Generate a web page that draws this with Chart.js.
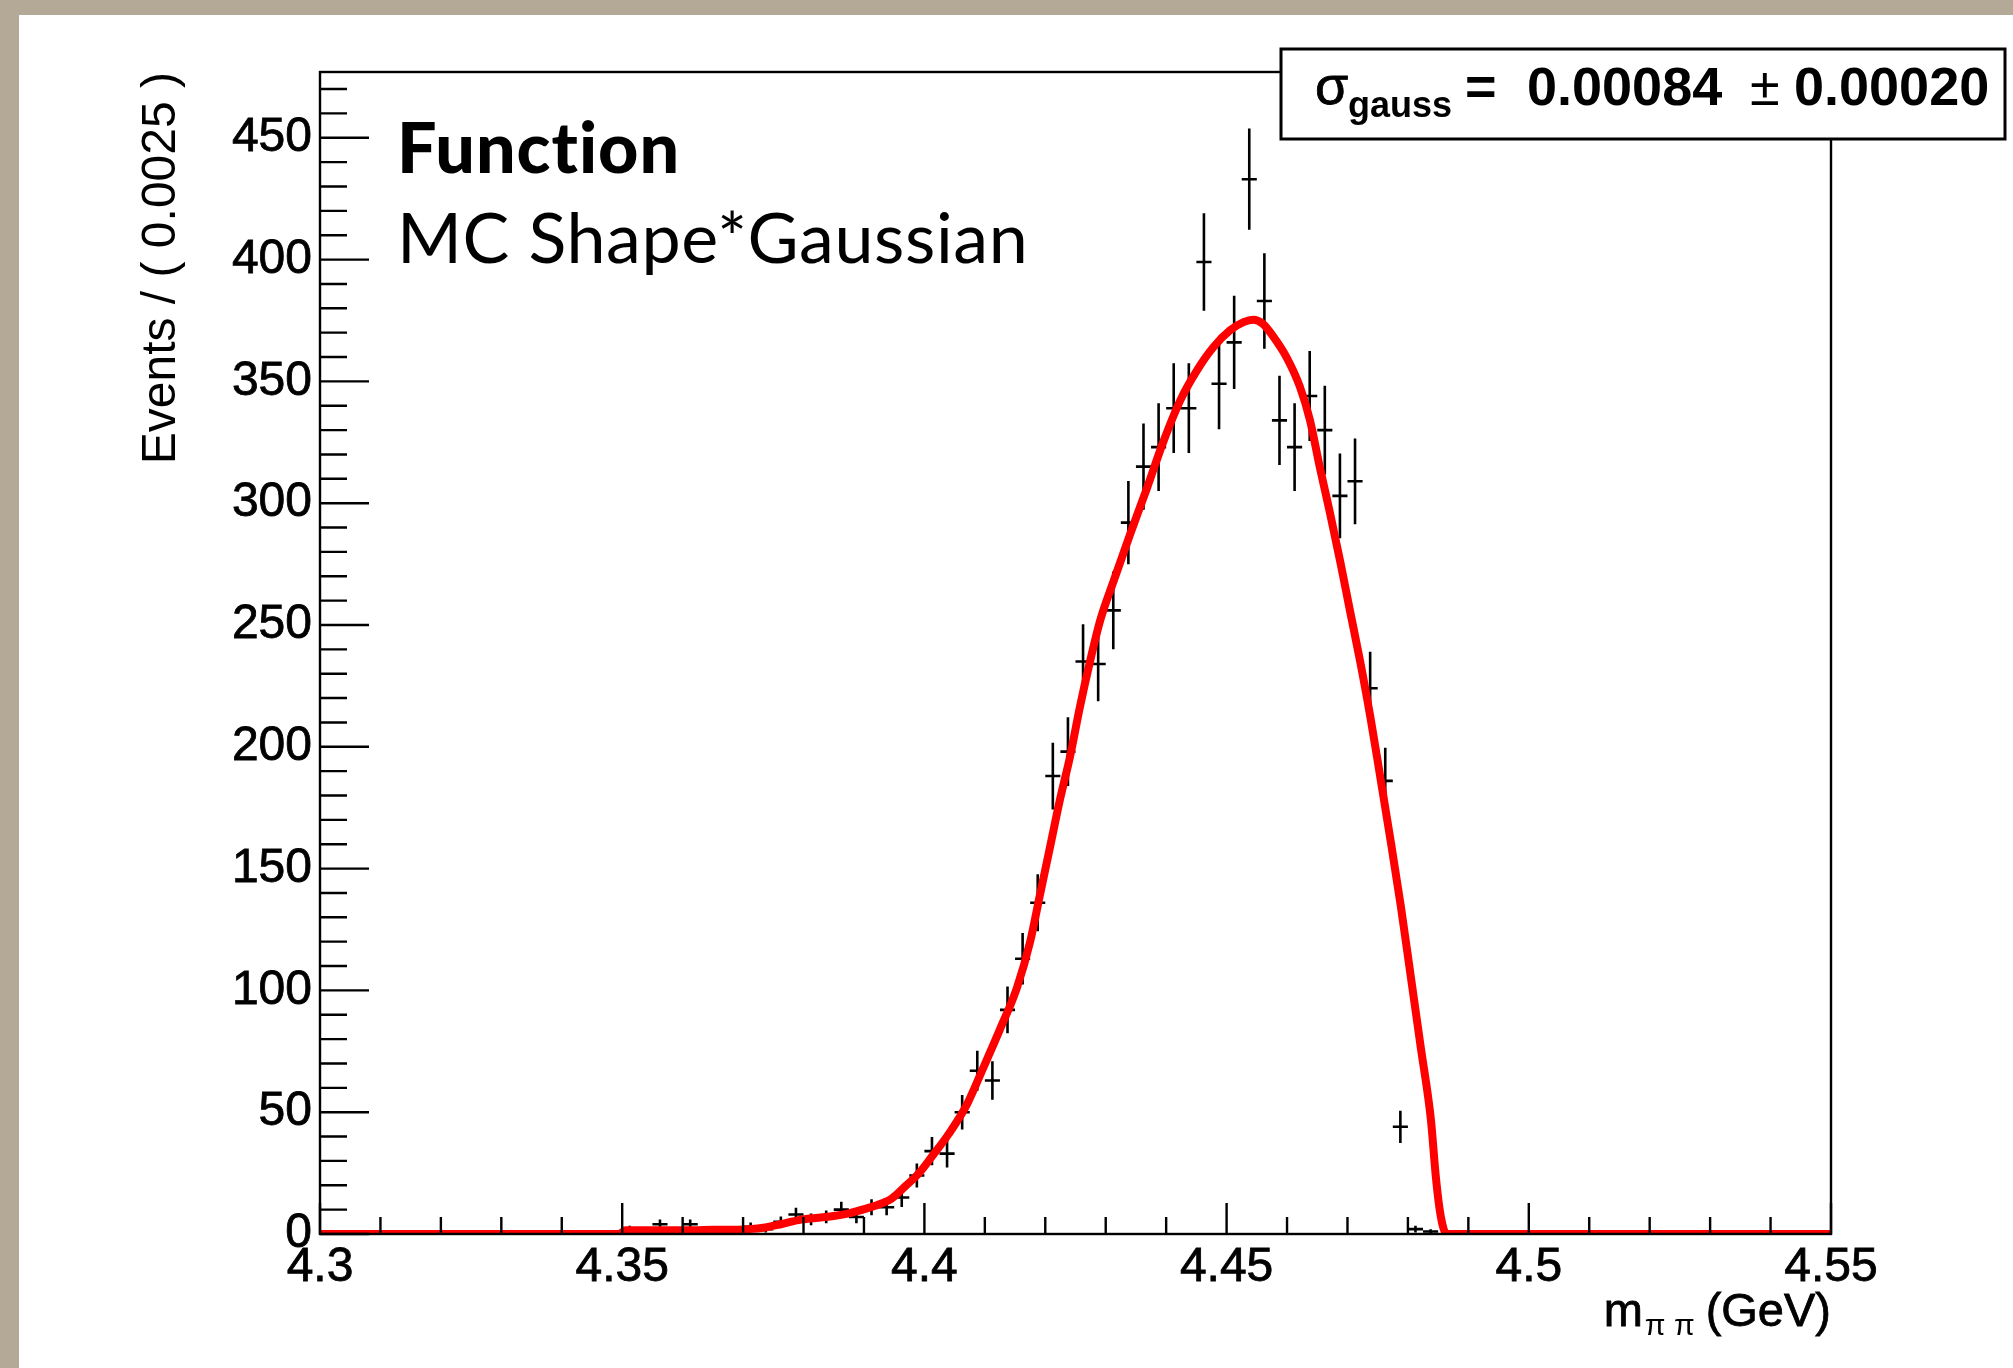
<!DOCTYPE html>
<html>
<head>
<meta charset="utf-8">
<script src="https://cdn.jsdelivr.net/npm/chart.js@4.4.1/dist/chart.umd.min.js"></script>
<style>
  html, body { margin: 0; padding: 0; background: #b4a997; }
  #massChart { display: block; }
</style>
</head>
<body>
<canvas id="massChart" width="2013" height="1368"></canvas>
<script>
// ---------------- DATA ----------------
// binned events, bin width 0.0025 GeV (bin centres)
const pointMass = [4.35125, 4.35625, 4.36125, 4.37125, 4.37375, 4.37625, 4.37875, 4.38125, 4.38375,
  4.38625, 4.38875, 4.39125, 4.39375, 4.39625, 4.39875, 4.40125, 4.40375, 4.40625, 4.40875, 4.41125,
  4.41375, 4.41625, 4.41875, 4.42125, 4.42375, 4.42625, 4.42875, 4.43125, 4.43375, 4.43625, 4.43875,
  4.44125, 4.44375, 4.44625, 4.44875, 4.45125, 4.45375, 4.45625, 4.45875, 4.46125, 4.46375, 4.46625,
  4.46875, 4.47125, 4.47375, 4.47625, 4.47875, 4.48125, 4.48375];
const pointEvents = [2, 4, 4, 3, 2, 5, 8, 6, 7,
  10, 7, 11, 11, 15, 24, 34, 33, 50, 67, 63,
  92, 113, 136, 188, 198, 235, 234, 256, 292, 315, 323,
  339, 339, 399, 349, 366, 433, 383, 334, 323, 344, 330,
  303, 309, 224, 186, 44, 2, 1];
const pointError = [1.4, 2, 2, 1.7, 1.4, 2.2, 2.8, 2.4, 2.6,
  3.2, 2.6, 3.3, 3.3, 3.9, 4.9, 5.8, 5.7, 7.1, 8.2, 7.9,
  9.6, 10.6, 11.7, 13.7, 14.1, 15.3, 15.3, 16, 17.1, 17.7, 18,
  18.4, 18.4, 20, 18.7, 19.1, 20.8, 19.6, 18.3, 18, 18.5, 18.2,
  17.4, 17.6, 15, 13.6, 6.6, 1.4, 1];
const binHalfWidth = 0.00125;

// fitted pdf: MC shape convolved with a gaussian
const curveMass = [4.3, 4.3495, 4.3505, 4.36, 4.365, 4.3709, 4.3737, 4.3764, 4.3792, 4.382,
  4.3847, 4.3875, 4.3902, 4.393, 4.3946, 4.3968, 4.3991, 4.4013, 4.404, 4.407,
  4.4097, 4.4125, 4.4153, 4.4175, 4.4191, 4.4208, 4.4224, 4.4241, 4.4257, 4.4274,
  4.4291, 4.4313, 4.434, 4.4368, 4.4395, 4.4423, 4.4451, 4.4478, 4.4506, 4.4528,
  4.4544, 4.456, 4.4577, 4.4599, 4.4621, 4.4638, 4.4654, 4.4671, 4.4688, 4.4704,
  4.4721, 4.4738, 4.4754, 4.4771, 4.4788, 4.4804, 4.4821, 4.4838, 4.4846, 4.4852,
  4.4857, 4.4862, 4.4868, 4.55];
const curveEvents = [0, 0, 1.5, 1.5, 1.7, 2, 2.7, 4.1, 5.7, 6.6,
  7.3, 8.5, 10.3, 12.6, 14.6, 19.5, 25, 32, 41, 53,
  68, 84, 101, 120, 139, 159, 178, 196, 216, 235,
  252, 268, 287, 306, 325, 342, 354.5, 364, 371, 374.3,
  375.3, 373.6, 368.5, 360, 348, 334, 315, 296, 276, 256,
  235, 212, 188, 162, 135, 107, 77, 47, 24, 11,
  4, 0.5, 0, 0];

const xTickValues = [4.3, 4.35, 4.4, 4.45, 4.5, 4.55];
const xTickLabels = ["4.3", "4.35", "4.4", "4.45", "4.5", "4.55"];
const yTickValues = [0, 50, 100, 150, 200, 250, 300, 350, 400, 450];
const yTickLabels = ["0", "50", "100", "150", "200", "250", "300", "350", "400", "450"];
const yMax = 477;

const sigmaValue = "0.00084";
const sigmaError = "0.00020";

// ---------------- STYLE ----------------
const AXIS_FONT = "'Liberation Sans', Arial, sans-serif";
const NOTE_FONT = "Lato, 'Noto Sans', sans-serif";

// ---------------- PLUGIN: root-like frame, error bars, notes ----------------
const rootStyle = {
  id: "rootStyle",

  beforeDraw(chart) {
    const { ctx, width, height } = chart;
    ctx.save();
    ctx.fillStyle = "#b4a997";
    ctx.fillRect(0, 0, width, height);
    ctx.fillStyle = "#ffffff";
    ctx.fillRect(19, 15, width - 19, height - 15);
    ctx.restore();
  },

  // data points go under the fit curve
  beforeDatasetsDraw(chart) {
    const { ctx, scales: { x, y } } = chart;
    ctx.save();
    ctx.strokeStyle = "#000";
    ctx.lineWidth = 2.6;
    ctx.beginPath();
    pointMass.forEach((m, i) => {
      const px = x.getPixelForValue(m);
      const py = y.getPixelForValue(pointEvents[i]);
      ctx.moveTo(px, y.getPixelForValue(Math.max(0, pointEvents[i] - pointError[i])));
      ctx.lineTo(px, y.getPixelForValue(pointEvents[i] + pointError[i]));
      ctx.moveTo(x.getPixelForValue(m - binHalfWidth), py);
      ctx.lineTo(x.getPixelForValue(m + binHalfWidth), py);
    });
    ctx.stroke();
    ctx.restore();
  },

  afterDraw(chart) {
    const { ctx, chartArea: a, scales: { x, y } } = chart;
    ctx.save();

    // frame
    ctx.strokeStyle = "#000";
    ctx.lineWidth = 2.4;
    ctx.strokeRect(a.left, a.top, a.right - a.left, a.bottom - a.top);

    // inward ticks
    ctx.beginPath();
    for (let k = 0; k <= 25; k++) {
      const px = x.getPixelForValue(4.3 + k * 0.01);
      const len = k % 5 === 0 ? 31 : 17;
      ctx.moveTo(px, a.bottom);
      ctx.lineTo(px, a.bottom - len);
    }
    for (let v = 0; v <= 470; v += 10) {
      const py = y.getPixelForValue(v);
      const len = v % 50 === 0 ? 49 : 27;
      ctx.moveTo(a.left, py);
      ctx.lineTo(a.left + len, py);
    }
    ctx.stroke();

    // x axis title: m_{pi pi} (GeV)
    ctx.fillStyle = "#000";
    ctx.strokeStyle = "#000";
    ctx.lineWidth = 0.8;
    ctx.textBaseline = "alphabetic";
    ctx.textAlign = "left";
    const big = "47px " + AXIS_FONT;
    const sub = "30px " + AXIS_FONT;
    ctx.font = big;
    const wM = ctx.measureText("m").width;
    const wTail = ctx.measureText(" (GeV)").width;
    ctx.font = sub;
    const wPi = ctx.measureText("\u03c0 \u03c0").width;
    const tx = a.right - (wM + wPi + wTail);
    ctx.font = big;
    ctx.fillText("m", tx, 1326);
    ctx.strokeText("m", tx, 1326);
    ctx.font = sub;
    ctx.fillText("\u03c0 \u03c0", tx + wM + 2, 1335);
    ctx.font = big;
    ctx.fillText(" (GeV)", tx + wM + wPi, 1326);
    ctx.strokeText(" (GeV)", tx + wM + wPi, 1326);

    // fit result box
    ctx.fillStyle = "#fff";
    ctx.fillRect(1281, 49, 724, 90);
    ctx.lineWidth = 3;
    ctx.strokeRect(1281, 49, 724, 90);
    ctx.fillStyle = "#000";
    ctx.lineWidth = 0.8;
    ctx.font = "54px " + AXIS_FONT;
    ctx.fillText("\u03c3", 1315, 104);
    ctx.strokeText("\u03c3", 1315, 104);
    ctx.font = "bold 36px " + AXIS_FONT;
    ctx.fillText("gauss", 1348, 117);
    ctx.font = "bold 54px " + AXIS_FONT;
    ctx.fillText("=", 1465, 105);
    ctx.fillText(sigmaValue, 1527, 105);
    ctx.font = "54px " + AXIS_FONT;
    ctx.fillText("\u00b1", 1750, 105);
    ctx.font = "bold 54px " + AXIS_FONT;
    ctx.fillText(sigmaError, 1794, 105);

    // slide notes
    ctx.letterSpacing = "1px";
    ctx.font = "900 70px " + NOTE_FONT;
    ctx.fillText("Function", 397, 173);
    ctx.letterSpacing = "0.6px";
    ctx.font = "70px " + NOTE_FONT;
    ctx.fillText("MC Shape*Gaussian", 397, 263);

    ctx.restore();
  }
};

// ---------------- CHART ----------------
const ctx = document.getElementById("massChart").getContext("2d");

new Chart(ctx, {
  type: "scatter",
  data: {
    datasets: [
      {
        label: "fit",
        data: curveMass.map((m, i) => ({ x: m, y: curveEvents[i] })),
        showLine: true,
        borderColor: "#ff0000",
        borderWidth: 8,
        pointRadius: 0,
        cubicInterpolationMode: "monotone",
        fill: false
      }
    ]
  },
  options: {
    responsive: false,
    animation: false,
    events: [],
    layout: { padding: { top: 72, right: 182, bottom: 0, left: 0 } },
    plugins: {
      legend: { display: false },
      tooltip: { enabled: false }
    },
    scales: {
      x: {
        type: "linear",
        min: 4.3,
        max: 4.55,
        grid: { display: false, drawTicks: false },
        border: { display: false },
        afterBuildTicks: s => { s.ticks = xTickValues.map(v => ({ value: v })); },
        afterFit: s => { s.height = 134; },
        ticks: {
          autoSkip: false,
          maxRotation: 0,
          padding: 5,
          color: "#000",
          textStrokeColor: "#000",
          textStrokeWidth: 0.8,
          font: { family: AXIS_FONT, size: 48 },
          callback: (v, i) => xTickLabels[i]
        }
      },
      y: {
        type: "linear",
        min: 0,
        max: yMax,
        grid: { display: false, drawTicks: false },
        border: { display: false },
        afterBuildTicks: s => { s.ticks = yTickValues.map(v => ({ value: v })); },
        afterFit: s => { s.width = 320; },
        ticks: {
          autoSkip: false,
          padding: 8,
          color: "#000",
          textStrokeColor: "#000",
          textStrokeWidth: 0.8,
          font: { family: AXIS_FONT, size: 48 },
          callback: (v, i) => yTickLabels[i]
        },
        title: {
          display: true,
          text: "Events / ( 0.0025 )",
          align: "end",
          color: "#000",
          font: { family: AXIS_FONT, size: 48 },
          padding: { top: 133, bottom: 0 }
        }
      }
    }
  },
  plugins: [rootStyle]
});
</script>
</body>
</html>
